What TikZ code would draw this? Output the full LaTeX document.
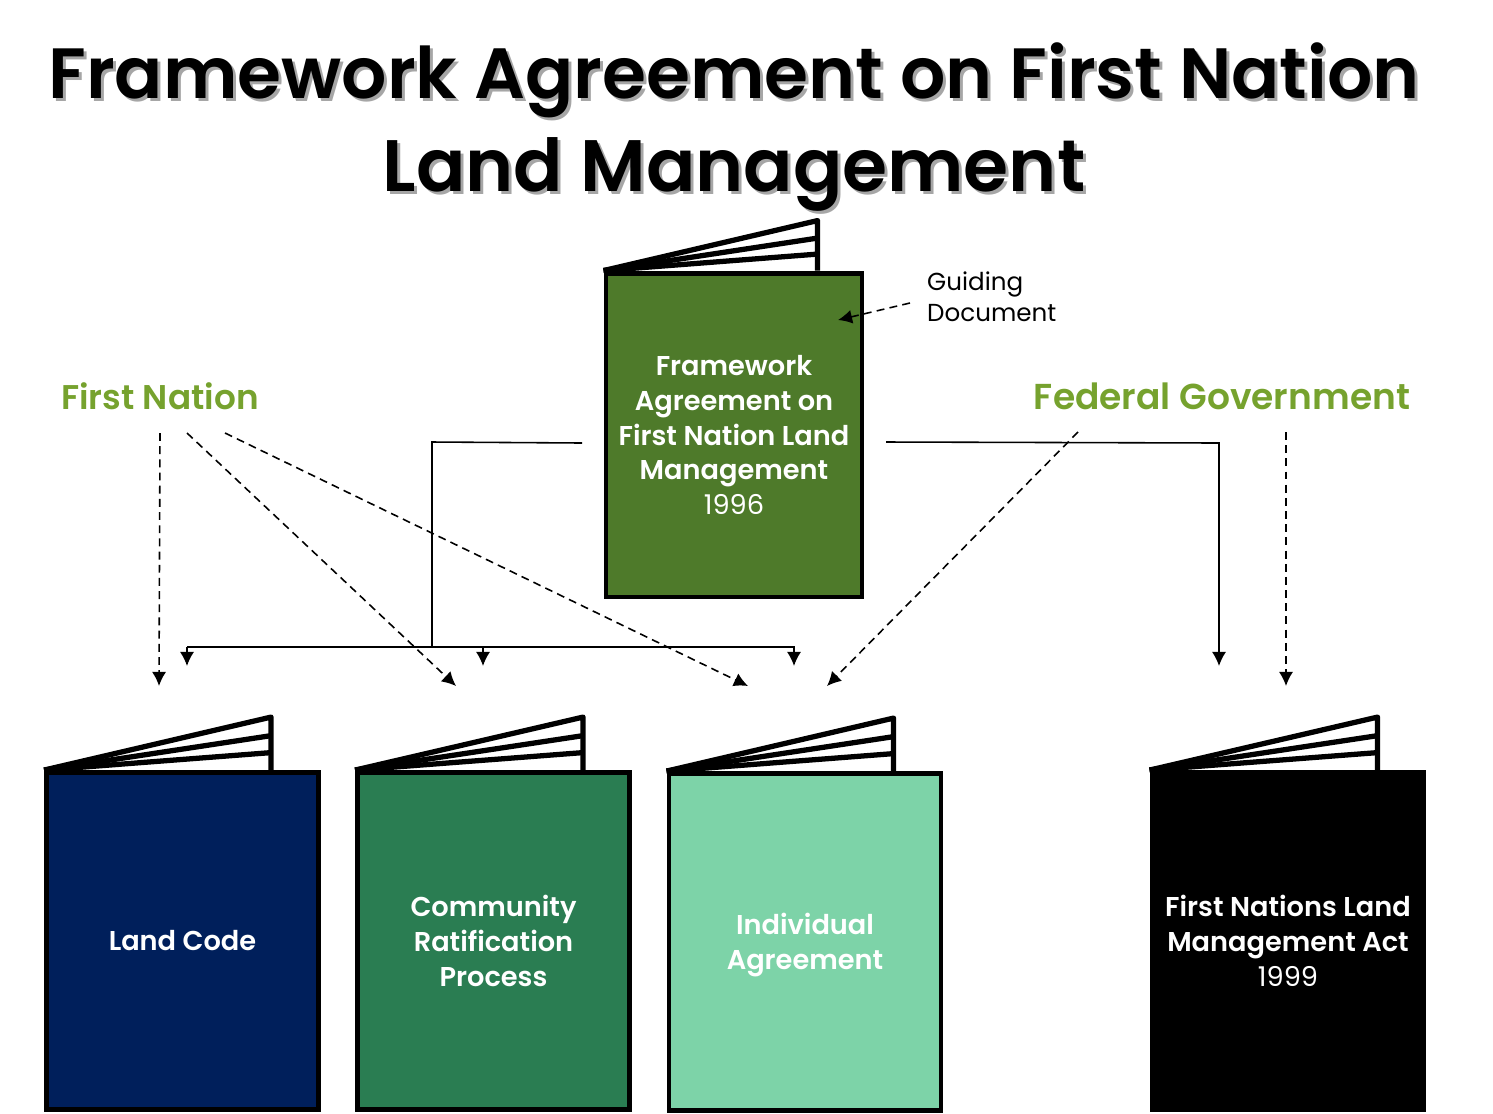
\documentclass[tikz,border=0pt]{standalone}
\usepackage{fontspec}
\setmainfont[BoldFont={Poppins SemiBold}]{Poppins}
\definecolor{fedgreen}{RGB}{118,162,46}
\definecolor{framegreen}{RGB}{78,122,42}
\definecolor{codeblue}{RGB}{0,31,91}
\definecolor{ratgreen}{RGB}{42,125,82}
\definecolor{indgreen}{RGB}{125,211,168}
\usetikzlibrary{
  arrows.meta,
  positioning,
  calc
}

\begin{document}
\begin{tikzpicture}[
    x=0.02cm, y=-0.02cm,
    book/.style={
      rectangle, draw=black, line width=2.8pt, fill=#1, text=white,
      minimum width=5.44cm, minimum height=6.74cm,
      align=center, font=\fontsize{15.5}{19.8}\selectfont\bfseries, inner sep=0pt
    },
    book/.default=black,
    side/.style={font=\fontsize{20.5}{25}\selectfont\bfseries, text=fedgreen},
    leaf/.style={line width=3pt, line join=round},
    dashedarrow/.style={->, dashed, line width=0.9pt, dash pattern=on 4.5pt off 3pt},
    linkarrow/.style={->, line width=0.9pt},
    >={Latex[length=8pt,width=8pt]}
  ]
  \useasboundingbox (0,0) rectangle (1493,1113);

  %% ===== Title =====
  \node[font=\fontsize{40.5}{53}\selectfont\bfseries, text=black!35, align=center]
    (titleshadow) at (737,130) {Framework Agreement on First Nation\\{\fontsize{41.5}{53}\selectfont Land Management}};
  \node[font=\fontsize{40.5}{53}\selectfont\bfseries, align=center]
    (title) at (734,127) {Framework Agreement on First Nation\\{\fontsize{41.5}{53}\selectfont Land Management}};

  %% ===== Books =====
  \node[book=framegreen, minimum width=5.12cm, minimum height=6.48cm] (frame) at (734,435)
    {Framework\\Agreement on\\First Nation Land\\Management\\{\mdseries 1996}};
  \node[book=codeblue] (code) at (182.5,941) {Land Code};
  \node[book=ratgreen] (rat) at (493.5,941) {Community\\Ratification\\Process};
  \node[book=indgreen] (ind) at (805,942) {\rule{0pt}{15.4pt}Individual\\Agreement};
  \node[book=black] (act) at (1288,941) {First Nations Land\\Management Act\\{\mdseries 1999}};

  %% --- pages behind each cover ---
  \foreach \cover/\run/\rise in {frame/214/50, code/227/53, rat/228/53, ind/227/53, act/228/53} {
    \draw[leaf] (\cover.north west) -- ++(\run,-\rise) -- ++(0,\rise);
    \draw[leaf] (\cover.north west) -- ++(\run,-0.65*\rise);
    \draw[leaf] (\cover.north west) -- ++(\run,-0.33*\rise);
  }

  %% ===== Labels =====
  \node[side, font=\fontsize{19.5}{25}\selectfont\bfseries] (fn) at (160,396) {First Nation};
  \node[side] (fg) at (1222,396) {Federal Government};
  \node[font=\fontsize{14}{17.6}\selectfont, align=left, anchor=west] (guide) at (921,297)
    {Guiding\\Document};

  %% --- free ends of the connectors ---
  \coordinate (fn1) at (160,433);
  \coordinate (fn2) at (187,433);
  \coordinate (fn3) at (225,433);
  \coordinate (fg1) at (1078,432);
  \coordinate (fg2) at (1286,432);
  \coordinate (tcode) at (159,686);
  \coordinate (trat) at (456,686);
  \coordinate (tind) at (748,686);
  \coordinate (tind2) at (827,686);
  \coordinate (tact) at (1286,686);
  \coordinate (gleft) at (910,303);
  \coordinate (gtip) at (838,320);
  \coordinate (frameleft) at (582,443);
  \coordinate (frameright) at (886,442);
  \coordinate (busjoin) at (432,647);
  \coordinate (busleft) at (187,647);
  \coordinate (busmid) at (483,647);
  \coordinate (busright) at (794,647);
  \coordinate (actin) at (1219,666);

  %% --- Dashed arrows ---
  \draw[dashedarrow] (fn1) -- (tcode);
  \draw[dashedarrow] (fn2) -- (trat);
  \draw[dashedarrow] (fn3) -- (tind);
  \draw[dashedarrow] (fg1) -- (tind2);
  \draw[dashedarrow] (fg2) -- (tact);
  \draw[dashedarrow] (gleft) -- (gtip);

  %% --- Solid arrows ---
  \draw[line width=0.9pt] (frameleft) -- (432,442) -- (busjoin);
  \draw[linkarrow] (busleft) -- (busright) -- ++(0,19);
  \draw[linkarrow] (busleft) -- ++(0,19);
  \draw[linkarrow] (busmid) -- ++(0,19);
  \draw[linkarrow] (frameright) -- (1219,443) -- (actin);
\end{tikzpicture}
\end{document}
